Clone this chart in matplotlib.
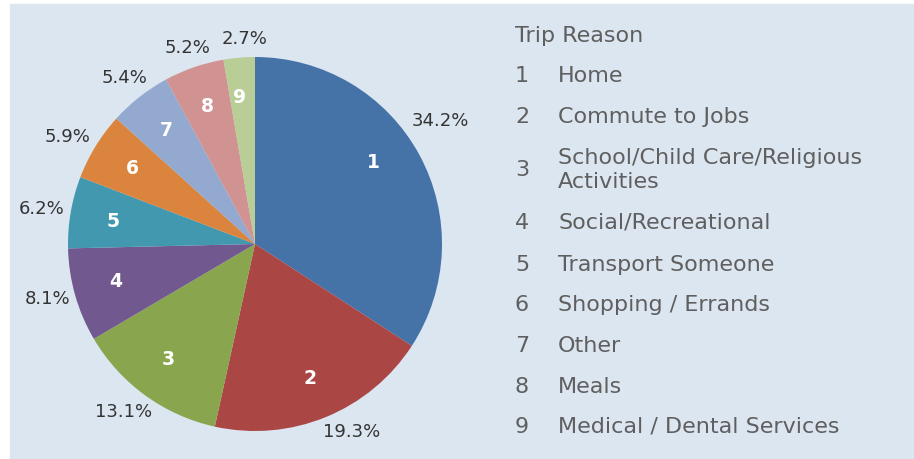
import numpy as np
import matplotlib.pyplot as plt
from matplotlib.patches import Rectangle

plt.rcParams['font.family'] = ['DejaVu Sans']

reasons = ['Home', 'Commute to Jobs', 'School/Child Care/Religious\nActivities',
           'Social/Recreational', 'Transport Someone', 'Shopping / Errands',
           'Other', 'Meals', 'Medical / Dental Services']
shares = [34.2, 19.3, 13.1, 8.1, 6.2, 5.9, 5.4, 5.2, 2.7]
colors = ['#4572A7', '#AA4643', '#89A54E', '#71588F', '#4198AF',
          '#DB843D', '#93A9CF', '#D19392', '#B9CD96']
legend_y = [76, 117, 170, 223, 265, 305, 346, 387, 427]  # pixel rows of legend entries

W, H = 914, 459
fig = plt.figure(figsize=(W / 100, H / 100), dpi=100)
fig.patch.set_facecolor('white')
fig.patches.append(Rectangle((10 / W, 0), 1 - 10 / W, (H - 4) / H,
                             transform=fig.transFigure, color='#DCE6F0', zorder=-5))

cx, cy, r = 255, 244, 187
ax = fig.add_axes([(cx - r) / W, (H - cy - r) / H, 2 * r / W, 2 * r / H])
ax.set_facecolor('none')
wedges, _ = ax.pie(shares, colors=colors, startangle=90, counterclock=False,
                   radius=1, wedgeprops=dict(linewidth=0))
ax.set_xlim(-1, 1)
ax.set_ylim(-1, 1)
ax.axis('off')

# excel-ish label placement: small angle nudges (deg) and radii per slice
in_nudge = [6, 0, -1, -1, 1, 0, 0, 0, 1]
in_dist = [0.77, 0.78, 0.77, 0.77, 0.77, 0.77, 0.77, 0.78, 0.79]
out_nudge = [5, 5, -2, -1, 0.5, 2, 0, 0, -2]
out_dist = [1.19, 1.13, 1.14, 1.15, 1.155, 1.155, 1.13, 1.11, 1.10]
for i, w in enumerate(wedges):
    mid = (w.theta1 + w.theta2) / 2
    a1 = np.deg2rad(mid + in_nudge[i])
    ax.text(in_dist[i] * np.cos(a1), in_dist[i] * np.sin(a1), str(i + 1),
            color='white', fontsize=13.5, fontweight='bold', ha='center', va='center')
    a2 = np.deg2rad(mid + out_nudge[i])
    ax.text(out_dist[i] * np.cos(a2), out_dist[i] * np.sin(a2), f'{shares[i]}%',
            color='#333333', fontsize=13, ha='center', va='center', clip_on=False)

fig.text(515 / W, 1 - 36 / H, 'Trip Reason', color='#5F5F5F', fontsize=16,
         ha='left', va='center')
for i, (lab, y) in enumerate(zip(reasons, legend_y)):
    fig.text(515 / W, 1 - y / H, str(i + 1), color='#5F5F5F', fontsize=16,
             ha='left', va='center')
    fig.text(558 / W, 1 - y / H, lab, color='#5F5F5F', fontsize=16,
             ha='left', va='center', linespacing=1.25)

fig.savefig('out.png', dpi=100)
